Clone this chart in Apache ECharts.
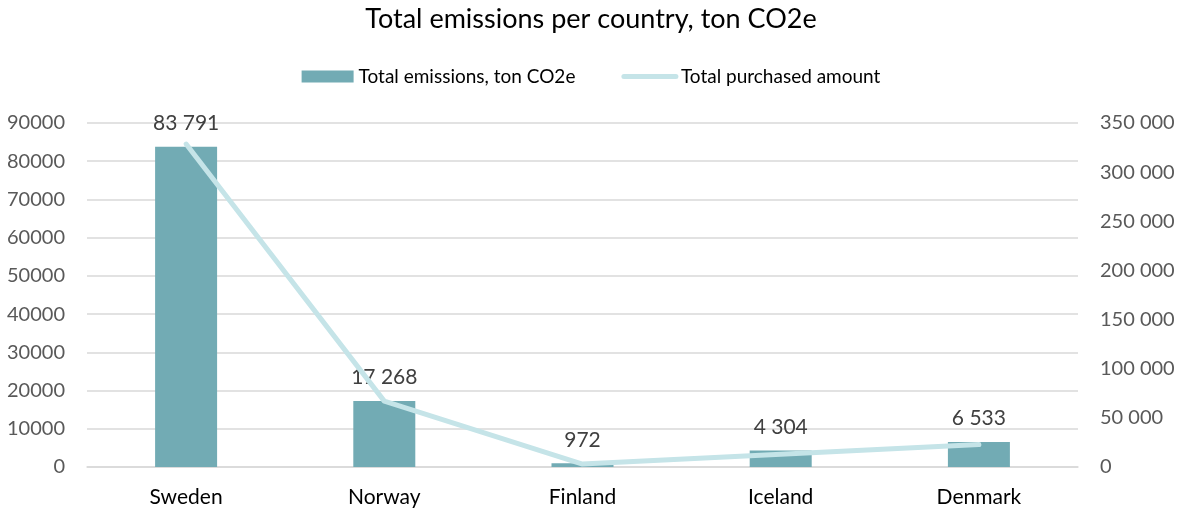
<!DOCTYPE html>
<html>
<head>
<meta charset="utf-8">
<script src="https://cdn.jsdelivr.net/npm/echarts@6/dist/echarts.min.js"></script>
<style>
  html, body { margin: 0; padding: 0; background: #fff; }
  #chart { width: 1182px; height: 512px; }
</style>
</head>
<body>
<div id="chart"></div>
<script>
var countries = ['Sweden', 'Norway', 'Finland', 'Iceland', 'Denmark'];
var emissions = [83791, 17268, 972, 4304, 6533];
var purchased = [328600, 67000, 3000, 12900, 22800];

function spaced(v) {
    return String(v).replace(/\B(?=(\d{3})+(?!\d))/g, ' ');
}

var font = 'Lato';
var chart = echarts.init(document.getElementById('chart'));

var option = {
    animation: false,
    textStyle: { fontFamily: font },
    title: {
        text: 'Total emissions per country, ton CO2e',
        left: 'center',
        top: 1,
        textStyle: { fontFamily: font, fontSize: 27, fontWeight: 'normal', color: '#000' }
    },
    legend: {
        top: 62,
        left: 'center',
        itemWidth: 52,
        itemHeight: 12,
        itemGap: 46,
        textStyle: { fontFamily: font, fontSize: 19, color: '#000' },
        data: [
            { name: 'Total emissions, ton CO2e', icon: 'rect' },
            {
                name: 'Total purchased amount',
                itemStyle: { opacity: 0 },
                lineStyle: { width: 5, cap: 'round', color: '#c5e4e8' }
            }
        ]
    },
    grid: { left: 87, right: 104, top: 123, bottom: 45 },
    xAxis: {
        type: 'category',
        data: countries,
        axisLine: { show: true, lineStyle: { color: '#d9d9d9', width: 1.5 } },
        axisTick: { show: false },
        axisLabel: { fontFamily: font, fontSize: 21, color: '#000', margin: 20 }
    },
    yAxis: [
        {
            type: 'value',
            min: 0, max: 90000, interval: 10000,
            axisLine: { show: false },
            axisTick: { show: false },
            splitLine: { lineStyle: { color: '#d9d9d9', width: 1.5 } },
            axisLabel: {
                fontFamily: font, fontSize: 20, color: '#595959', margin: 22,
                formatter: function (v) { return String(v); }
            }
        },
        {
            type: 'value',
            min: 0, max: 350000, interval: 50000,
            axisLine: { show: false },
            axisTick: { show: false },
            splitLine: { show: false },
            axisLabel: {
                fontFamily: font, fontSize: 20, color: '#595959', margin: 22,
                formatter: function (v) { return spaced(v); }
            }
        }
    ],
    series: [
        {
            name: 'Total emissions, ton CO2e',
            type: 'bar',
            data: emissions,
            barWidth: 62,
            itemStyle: { color: '#72abb4' },
            label: {
                show: true,
                position: 'top',
                distance: 13,
                fontFamily: font,
                fontSize: 21,
                color: '#404040',
                formatter: function (p) { return spaced(p.value); }
            }
        },
        {
            name: 'Total purchased amount',
            type: 'line',
            yAxisIndex: 1,
            data: purchased,
            symbol: 'none',
            itemStyle: { color: '#c5e4e8' },
            lineStyle: { color: '#c5e4e8', width: 5, cap: 'round', join: 'round' }
        }
    ]
};

chart.setOption(option);
</script>
</body>
</html>
